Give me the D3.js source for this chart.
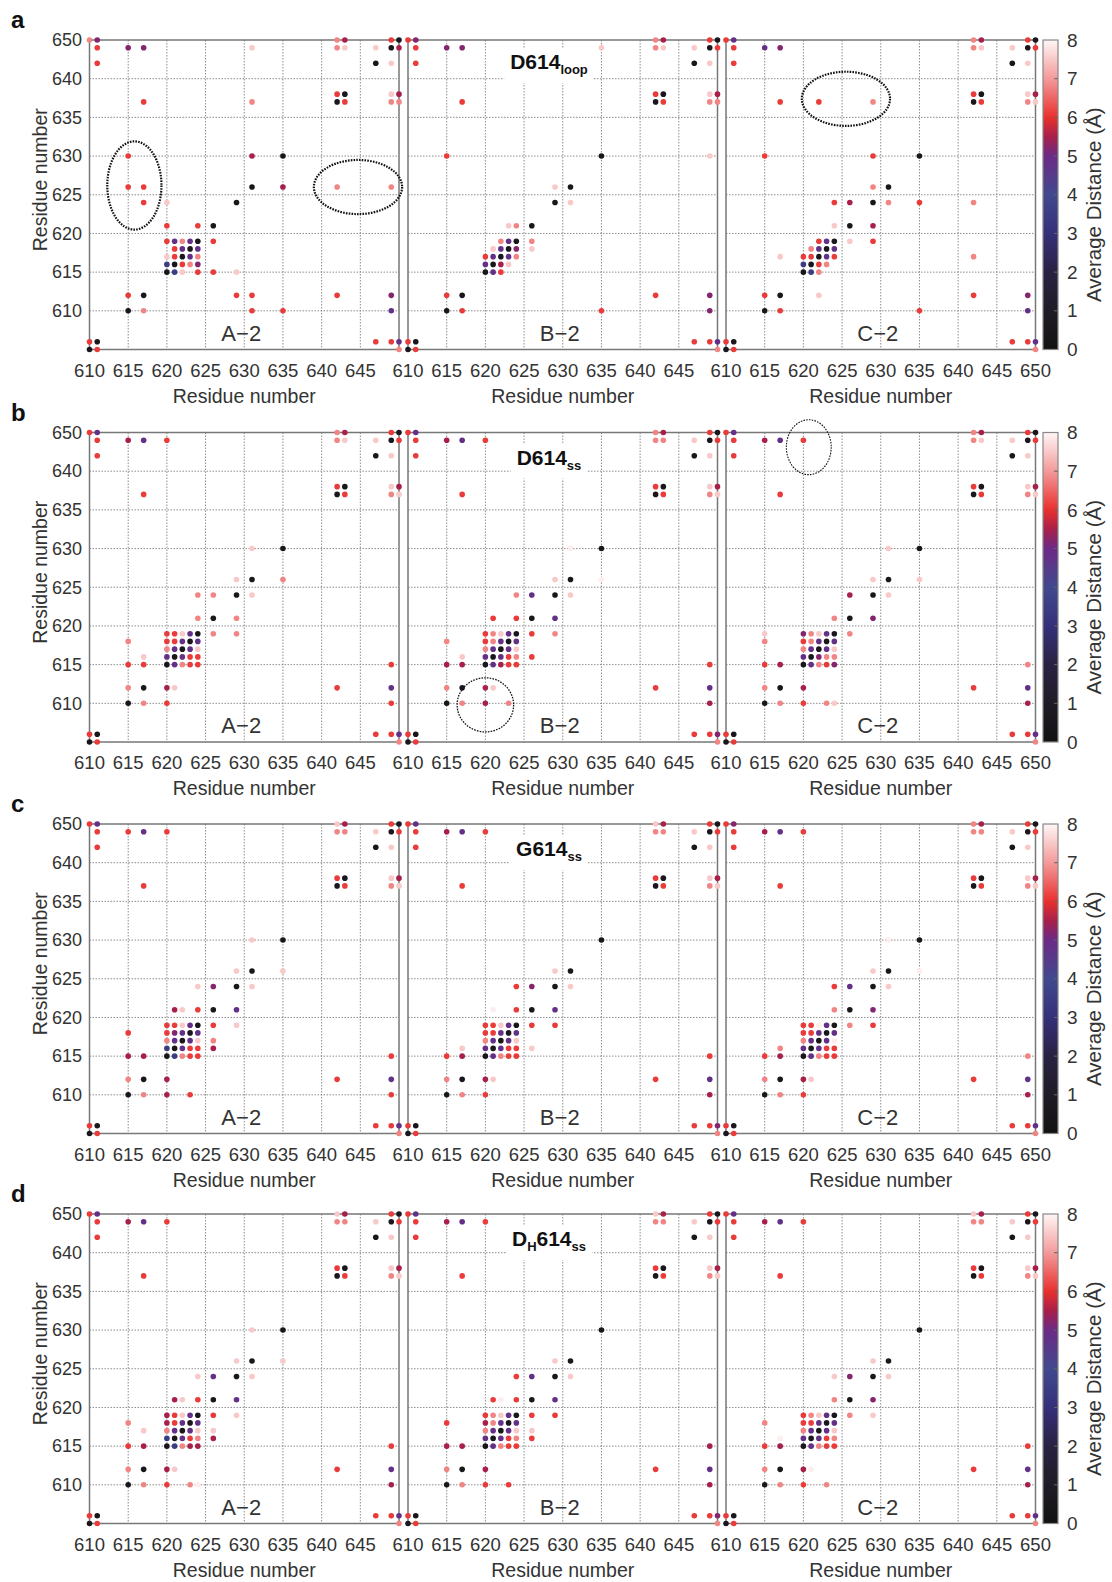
<!DOCTYPE html>
<html>
<head>
<meta charset="utf-8">
<script src="https://cdn.jsdelivr.net/npm/d3@7"></script>
<style>
  body { margin: 0; background: #fff; }
  text { font-family: "Liberation Sans Narrow", "Liberation Sans", Arial, sans-serif; fill: #333; }
  .bold { font-family: "Liberation Sans", Arial, sans-serif; font-weight: bold; fill: #111; }
  .boldn { font-family: "Liberation Sans Narrow", "Liberation Sans", Arial, sans-serif; font-weight: bold; fill: #111; }
</style>
</head>
<body>
<div id="chart"></div>
<script>
// contact maps: residue pairs coloured by average distance (Å)
// y values are on the plotted row scale (top row is labelled 650)

const K = 0.5, I = 3.5, P = 4.8, Q = 5.2, M = 5.5, R = 6.1, S = 6.8, L = 7.5, F = 7.9;

const xTicks = [610, 615, 620, 625, 630, 635, 640, 645, 650];
const yTicks = [610, 615, 620, 625, 630, 635, 640, 645];
const yTickLabels = ["610", "615", "620", "625", "630", "635", "640", "650"];
const rowLetters = ["a", "b", "c", "d"];
const panelNames = ["A\u22122", "B\u22122", "C\u22122"];
const barTicks = [0, 1, 2, 3, 4, 5, 6, 7, 8];
const barStops = [0, 1, 2, 3, 4, 5, 5.5, 6, 7, 8];
const barColors = ["#121212", "#1f1b26", "#2a2142", "#35307a", "#41498e", "#6c2a86", "#a8204a", "#e8302e", "#f39a9a", "#fff6f6"];

const aA = [
  [610,645,S],[611,645,Q],[642,645,S],[643,645,M],[649,645,R],[650,645,K],
  [611,644,R],[615,644,Q],[617,644,Q],[631,644,L],[642,644,S],[643,644,L],[647,644,L],[649,644,K],[650,644,M],
  [611,642,R],[647,642,K],[649,642,L],
  [642,638,R],[643,638,K],[649,638,L],[650,638,M],
  [617,637,R],[631,637,S],[642,637,K],[643,637,R],[649,637,S],[650,637,S],
  [615,630,R],[631,630,M],[635,630,K],
  [615,626,R],[617,626,R],[631,626,K],[635,626,M],[642,626,S],[649,626,S],
  [617,624,R],[620,624,L],[629,624,K],
  [620,621,R],[624,621,R],[626,621,K],
  [620,619,R],[621,619,P],[622,619,S],[623,619,P],[624,619,K],[626,619,R],
  [621,618,R],[622,618,P],[623,618,K],[624,618,P],
  [620,617,L],[621,617,R],[622,617,K],[623,617,P],[624,617,S],
  [620,616,I],[621,616,K],[622,616,R],[623,616,S],[624,616,Q],
  [620,615,K],[621,615,I],[622,615,L],[624,615,R],[626,615,R],[629,615,L],
  [615,612,R],[617,612,K],[629,612,R],[631,612,R],[642,612,R],[649,612,Q],
  [615,610,K],[617,610,S],[631,610,R],[635,610,R],[649,610,P],
  [610,606,R],[611,606,K],[647,606,R],[649,606,R],[650,606,P],
  [610,605,K],[611,605,R],[650,605,S]
];
const aB = [
  [610,645,R],[611,645,Q],[642,645,S],[643,645,M],[649,645,R],[650,645,K],
  [611,644,R],[615,644,Q],[617,644,Q],[635,644,L],[642,644,S],[643,644,L],[647,644,L],[649,644,K],[650,644,R],
  [611,642,R],[647,642,K],[649,642,L],
  [642,638,R],[643,638,K],[649,638,L],[650,638,M],
  [617,637,R],[642,637,K],[643,637,R],[649,637,S],[650,637,S],
  [615,630,R],[635,630,K],[649,630,L],
  [629,626,L],[631,626,K],
  [629,624,K],[631,624,L],
  [623,621,L],[624,621,S],[626,621,K],
  [622,619,S],[623,619,P],[624,619,K],[626,619,S],
  [621,618,L],[622,618,P],[623,618,K],[624,618,Q],[626,618,L],
  [620,617,R],[621,617,P],[622,617,K],[623,617,P],[624,617,S],
  [620,616,P],[621,616,K],[622,616,M],[623,616,L],
  [620,615,K],[621,615,P],[622,615,R],
  [615,612,R],[617,612,K],[642,612,R],[649,612,Q],
  [615,610,K],[617,610,R],[635,610,R],[649,610,Q],
  [610,606,R],[611,606,K],[647,606,R],[649,606,R],[650,606,P],
  [610,605,K],[611,605,R],[650,605,S]
];
const aC = [
  [610,645,R],[611,645,P],[642,645,S],[643,645,M],[649,645,R],[650,645,K],
  [611,644,R],[615,644,P],[617,644,Q],[642,644,S],[643,644,L],[647,644,L],[649,644,K],[650,644,R],
  [611,642,R],[647,642,K],[649,642,L],
  [642,638,R],[643,638,K],[649,638,L],[650,638,M],
  [617,637,R],[622,637,R],[629,637,S],[642,637,K],[643,637,R],[649,637,S],[650,637,L],
  [615,630,R],[629,630,R],[635,630,K],
  [629,626,S],[631,626,K],
  [624,624,R],[626,624,M],[629,624,K],[631,624,S],[635,624,R],[642,624,S],
  [624,621,L],[626,621,K],[629,621,M],
  [622,619,R],[623,619,P],[624,619,K],[626,619,L],[629,619,R],
  [621,618,S],[622,618,P],[623,618,K],[624,618,P],
  [617,617,L],[620,617,R],[621,617,R],[622,617,K],[623,617,P],[624,617,R],[642,617,S],
  [620,616,I],[621,616,K],[622,616,R],[623,616,S],
  [620,615,K],[621,615,I],[622,615,S],
  [615,612,R],[617,612,K],[622,612,L],[642,612,R],[649,612,Q],
  [615,610,K],[617,610,R],[635,610,R],[649,610,P],
  [610,606,R],[611,606,K],[647,606,R],[649,606,R],[650,606,P],
  [610,605,K],[611,605,R],[650,605,S]
];

const bA = [
  [610,645,R],[611,645,P],[642,645,S],[643,645,M],[649,645,R],[650,645,K],
  [611,644,R],[615,644,M],[617,644,P],[620,644,R],[642,644,S],[643,644,L],[647,644,L],[649,644,K],[650,644,R],
  [611,642,R],[647,642,K],[649,642,L],
  [642,638,R],[643,638,K],[649,638,L],[650,638,M],
  [617,637,R],[642,637,K],[643,637,R],[649,637,S],[650,637,L],
  [631,630,L],[635,630,K],
  [629,626,L],[631,626,K],[635,626,S],
  [624,624,S],[626,624,S],[629,624,K],[631,624,L],
  [624,621,S],[626,621,K],[629,621,S],
  [620,619,R],[621,619,R],[622,619,L],[623,619,P],[624,619,K],[626,619,S],[629,619,S],
  [615,618,S],[620,618,R],[621,618,R],[622,618,P],[623,618,K],[624,618,P],
  [620,617,S],[621,617,P],[622,617,K],[623,617,P],[624,617,L],
  [617,616,L],[620,616,P],[621,616,K],[622,616,P],[623,616,R],[624,616,R],
  [615,615,R],[617,615,R],[620,615,K],[621,615,P],[622,615,S],[623,615,R],[624,615,R],[649,615,R],
  [615,612,S],[617,612,K],[620,612,M],[621,612,L],[642,612,R],[649,612,P],
  [615,610,K],[617,610,S],[620,610,R],[649,610,R],
  [610,606,R],[611,606,K],[647,606,R],[649,606,R],[650,606,P],
  [610,605,K],[611,605,R],[650,605,S]
];
const bB = [
  [610,645,R],[611,645,P],[642,645,S],[643,645,M],[649,645,R],[650,645,K],
  [611,644,R],[615,644,M],[617,644,P],[620,644,R],[642,644,S],[643,644,S],[647,644,L],[649,644,K],[650,644,R],
  [611,642,R],[647,642,K],[649,642,L],
  [642,638,R],[643,638,K],[649,638,L],[650,638,M],
  [617,637,R],[642,637,K],[643,637,R],[649,637,S],[650,637,L],
  [631,630,F],[635,630,K],
  [629,626,L],[631,626,K],[635,626,F],
  [624,624,S],[626,624,P],[629,624,K],[631,624,L],
  [621,621,R],[624,621,R],[626,621,K],[629,621,P],
  [620,619,R],[621,619,S],[622,619,L],[623,619,P],[624,619,K],[626,619,R],[629,619,S],
  [615,618,S],[620,618,R],[621,618,S],[622,618,P],[623,618,K],[624,618,P],
  [620,617,S],[621,617,P],[622,617,K],[623,617,P],[624,617,L],
  [617,616,L],[620,616,P],[621,616,K],[622,616,P],[623,616,R],[624,616,S],[626,616,R],
  [615,615,M],[617,615,M],[620,615,K],[621,615,P],[622,615,M],[623,615,R],[624,615,R],[649,615,R],
  [615,612,S],[617,612,K],[620,612,M],[621,612,L],[642,612,R],[649,612,P],
  [615,610,K],[617,610,S],[620,610,M],[623,610,S],[649,610,M],
  [610,606,R],[611,606,K],[647,606,R],[649,606,R],[650,606,Q],
  [610,605,K],[611,605,R],[650,605,S]
];
const bC = [
  [610,645,R],[611,645,P],[642,645,S],[643,645,M],[649,645,R],[650,645,K],
  [611,644,R],[615,644,M],[617,644,P],[620,644,R],[642,644,S],[643,644,L],[647,644,L],[649,644,K],[650,644,R],
  [611,642,R],[647,642,K],[649,642,L],
  [642,638,R],[643,638,K],[649,638,L],[650,638,M],
  [617,637,R],[642,637,K],[643,637,R],[649,637,S],[650,637,L],
  [631,630,L],[635,630,K],
  [629,626,L],[631,626,K],[635,626,L],
  [626,624,M],[629,624,K],[631,624,L],
  [624,621,S],[626,621,K],[629,621,Q],
  [615,619,L],[620,619,Q],[621,619,S],[622,619,L],[623,619,P],[624,619,K],[626,619,S],
  [615,618,S],[620,618,R],[621,618,S],[622,618,P],[623,618,K],[624,618,P],
  [620,617,S],[621,617,P],[622,617,K],[623,617,P],[624,617,L],
  [620,616,P],[621,616,K],[622,616,Q],[623,616,S],[624,616,S],
  [615,615,R],[617,615,M],[620,615,K],[621,615,P],[622,615,S],[623,615,R],[624,615,Q],[649,615,S],
  [615,612,S],[617,612,K],[620,612,M],[642,612,R],[649,612,P],
  [615,610,K],[617,610,S],[620,610,R],[623,610,S],[624,610,L],[649,610,M],
  [610,606,R],[611,606,K],[647,606,R],[649,606,R],[650,606,P],
  [610,605,K],[611,605,R],[650,605,S]
];

const cA = [
  [610,645,R],[611,645,P],[642,645,L],[643,645,M],[649,645,R],[650,645,K],
  [611,644,R],[615,644,R],[617,644,P],[620,644,R],[642,644,S],[643,644,S],[647,644,L],[649,644,K],[650,644,R],
  [611,642,R],[647,642,K],[649,642,L],
  [642,638,R],[643,638,K],[649,638,L],[650,638,M],
  [617,637,R],[642,637,K],[643,637,R],[649,637,S],[650,637,L],
  [631,630,L],[635,630,K],
  [629,626,L],[631,626,K],[635,626,L],
  [624,624,L],[626,624,Q],[629,624,K],[631,624,L],
  [621,621,M],[622,621,L],[624,621,R],[626,621,K],[629,621,P],
  [620,619,R],[621,619,R],[622,619,L],[623,619,P],[624,619,K],[626,619,R],[629,619,L],
  [615,618,R],[620,618,R],[621,618,Q],[622,618,P],[623,618,K],[624,618,P],
  [620,617,S],[621,617,P],[622,617,K],[623,617,P],[624,617,L],[626,617,S],
  [620,616,I],[621,616,K],[622,616,P],[623,616,R],[624,616,R],[626,616,M],
  [615,615,M],[617,615,M],[620,615,K],[621,615,I],[622,615,S],[623,615,R],[624,615,R],[649,615,R],
  [615,612,S],[617,612,K],[620,612,M],[642,612,R],[649,612,P],
  [615,610,K],[617,610,S],[620,610,M],[623,610,R],[649,610,R],
  [610,606,R],[611,606,K],[647,606,R],[649,606,R],[650,606,P],
  [610,605,K],[611,605,R],[650,605,S]
];
const cB = [
  [610,645,R],[611,645,P],[642,645,L],[643,645,M],[649,645,R],[650,645,K],
  [611,644,R],[615,644,M],[617,644,P],[620,644,R],[642,644,S],[643,644,S],[647,644,L],[649,644,K],[650,644,R],
  [611,642,R],[647,642,K],[649,642,L],
  [642,638,R],[643,638,K],[649,638,L],[650,638,M],
  [617,637,R],[642,637,K],[643,637,R],[649,637,S],[650,637,L],
  [635,630,K],
  [629,626,L],[631,626,K],
  [624,624,R],[626,624,Q],[629,624,K],[631,624,L],
  [621,621,F],[624,621,R],[626,621,K],[629,621,P],
  [620,619,R],[621,619,R],[622,619,L],[623,619,P],[624,619,K],[626,619,R],[629,619,R],
  [620,618,R],[621,618,R],[622,618,P],[623,618,K],[624,618,P],
  [620,617,S],[621,617,P],[622,617,K],[623,617,P],[624,617,L],
  [617,616,L],[620,616,P],[621,616,K],[622,616,P],[623,616,R],[624,616,R],[626,616,L],
  [615,615,R],[617,615,M],[620,615,K],[621,615,P],[622,615,S],[623,615,R],[624,615,R],[649,615,R],
  [615,612,S],[617,612,K],[620,612,M],[621,612,L],[642,612,R],[649,612,P],
  [615,610,K],[617,610,S],[620,610,R],[649,610,M],
  [610,606,R],[611,606,K],[647,606,R],[649,606,R],[650,606,Q],
  [610,605,K],[611,605,R],[650,605,S]
];
const cC = [
  [610,645,R],[611,645,Q],[642,645,S],[643,645,M],[649,645,R],[650,645,K],
  [611,644,R],[615,644,M],[617,644,P],[620,644,R],[642,644,S],[643,644,S],[647,644,L],[649,644,K],[650,644,R],
  [611,642,R],[647,642,K],[649,642,L],
  [642,638,R],[643,638,K],[649,638,L],[650,638,M],
  [617,637,R],[642,637,K],[643,637,R],[649,637,S],[650,637,L],
  [631,630,F],[635,630,K],
  [629,626,L],[631,626,K],[635,626,F],
  [624,624,R],[626,624,P],[629,624,K],[631,624,L],
  [624,621,S],[626,621,K],[629,621,Q],
  [620,619,R],[621,619,R],[622,619,F],[623,619,P],[624,619,K],[626,619,S],[629,619,R],
  [620,618,R],[621,618,R],[622,618,P],[623,618,K],[624,618,P],
  [620,617,S],[621,617,P],[622,617,K],[623,617,P],[624,617,F],
  [617,616,S],[620,616,P],[621,616,K],[622,616,P],[623,616,R],[624,616,R],
  [615,615,R],[617,615,M],[620,615,K],[621,615,P],[622,615,S],[623,615,R],[624,615,R],[649,615,S],
  [615,612,S],[617,612,K],[620,612,M],[621,612,L],[642,612,R],[649,612,P],
  [615,610,K],[617,610,S],[620,610,R],[649,610,M],
  [610,606,R],[611,606,K],[647,606,R],[649,606,R],[650,606,P],
  [610,605,K],[611,605,R],[650,605,S]
];

const dA = [
  [610,645,R],[611,645,P],[642,645,L],[643,645,M],[649,645,R],[650,645,K],
  [611,644,R],[615,644,M],[617,644,P],[620,644,R],[642,644,S],[643,644,S],[647,644,L],[649,644,K],[650,644,R],
  [611,642,R],[647,642,K],[649,642,L],
  [642,638,R],[643,638,K],[649,638,L],[650,638,M],
  [617,637,R],[642,637,K],[643,637,R],[649,637,S],[650,637,L],
  [631,630,L],[635,630,K],
  [629,626,L],[631,626,K],[635,626,L],
  [624,624,L],[626,624,P],[629,624,K],[631,624,L],
  [621,621,M],[622,621,L],[624,621,R],[626,621,K],[629,621,P],
  [620,619,M],[621,619,R],[622,619,L],[623,619,P],[624,619,K],[626,619,R],[629,619,L],
  [615,618,S],[620,618,M],[621,618,R],[622,618,P],[623,618,K],[624,618,P],
  [617,617,L],[620,617,S],[621,617,P],[622,617,K],[623,617,P],[624,617,L],[626,617,L],
  [620,616,I],[621,616,K],[622,616,P],[623,616,R],[624,616,S],[626,616,M],
  [615,615,R],[617,615,M],[620,615,K],[621,615,I],[622,615,S],[623,615,M],[624,615,M],[649,615,R],
  [615,612,S],[617,612,K],[620,612,M],[621,612,L],[642,612,R],[649,612,P],
  [615,610,K],[617,610,S],[620,610,R],[623,610,S],[624,610,F],[649,610,M],
  [610,606,R],[611,606,K],[647,606,R],[649,606,R],[650,606,P],
  [610,605,K],[611,605,R],[650,605,S]
];
const dB = [
  [610,645,R],[611,645,P],[642,645,L],[643,645,M],[649,645,R],[650,645,K],
  [611,644,R],[615,644,M],[617,644,P],[620,644,R],[642,644,S],[643,644,S],[647,644,L],[649,644,K],[650,644,R],
  [611,642,R],[647,642,K],[649,642,L],
  [642,638,R],[643,638,K],[649,638,L],[650,638,M],
  [617,637,R],[642,637,K],[643,637,R],[649,637,S],[650,637,L],
  [635,630,K],
  [629,626,L],[631,626,K],
  [624,624,R],[626,624,P],[629,624,K],[631,624,L],
  [621,621,R],[622,621,F],[624,621,R],[626,621,K],[629,621,P],
  [620,619,R],[621,619,S],[622,619,L],[623,619,P],[624,619,K],[626,619,R],[629,619,R],
  [615,618,R],[620,618,M],[621,618,S],[622,618,P],[623,618,K],[624,618,P],
  [620,617,S],[621,617,P],[622,617,K],[623,617,P],[624,617,L],[626,617,L],
  [620,616,P],[621,616,K],[622,616,P],[623,616,R],[624,616,S],[626,616,R],
  [615,615,M],[617,615,M],[620,615,K],[621,615,P],[622,615,S],[623,615,R],[624,615,R],[649,615,M],
  [615,612,S],[617,612,K],[620,612,M],[642,612,R],[649,612,P],
  [615,610,K],[617,610,S],[620,610,R],[623,610,R],[649,610,M],
  [610,606,R],[611,606,K],[647,606,R],[649,606,R],[650,606,Q],
  [610,605,K],[611,605,R],[650,605,S]
];
const dC = [
  [610,645,R],[611,645,P],[642,645,L],[643,645,M],[649,645,R],[650,645,K],
  [611,644,R],[615,644,M],[617,644,P],[620,644,R],[642,644,S],[643,644,S],[647,644,L],[649,644,K],[650,644,R],
  [611,642,R],[647,642,K],[649,642,L],
  [642,638,R],[643,638,K],[649,638,L],[650,638,M],
  [617,637,R],[642,637,K],[643,637,R],[649,637,S],[650,637,L],
  [635,630,K],
  [629,626,L],[631,626,K],
  [624,624,L],[626,624,Q],[629,624,K],[631,624,L],
  [624,621,S],[626,621,K],[629,621,Q],
  [620,619,R],[621,619,S],[622,619,L],[623,619,P],[624,619,K],[626,619,S],[629,619,L],
  [615,618,S],[620,618,R],[621,618,R],[622,618,P],[623,618,K],[624,618,P],
  [620,617,S],[621,617,P],[622,617,K],[623,617,P],[624,617,L],
  [617,616,F],[620,616,P],[621,616,K],[622,616,P],[623,616,R],[624,616,S],
  [615,615,R],[617,615,M],[620,615,K],[621,615,P],[622,615,S],[623,615,R],[624,615,R],[649,615,R],
  [615,612,S],[617,612,K],[620,612,M],[621,612,F],[642,612,R],[649,612,P],
  [615,610,K],[617,610,S],[620,610,R],[623,610,S],[649,610,M],
  [610,606,R],[611,606,K],[647,606,R],[649,606,R],[650,606,P],
  [610,605,K],[611,605,R],[650,605,S]
];

const panelData = [[aA, aB, aC], [bA, bB, bC], [cA, cB, cC], [dA, dB, dC]];

// title in the middle panel of each row: [text, isSubscript]
const rowTitles = [
  [["D614", false], ["loop", true]],
  [["D614", false], ["ss", true]],
  [["G614", false], ["ss", true]],
  [["D", false], ["H", true], ["614", false], ["ss", true]]
];

// dotted ellipses marking regions: row, panel, centre and radii in residues
const marks = [
  { row: 0, col: 0, cx: 615.8, cy: 626.2, rx: 3.5, ry: 5.7, w: 2.2 },
  { row: 0, col: 0, cx: 644.7, cy: 626.0, rx: 5.7, ry: 3.5, w: 2.2 },
  { row: 0, col: 2, cx: 625.5, cy: 637.4, rx: 5.7, ry: 3.5, w: 2.2 },
  { row: 1, col: 1, cx: 620.0, cy: 609.8, rx: 3.65, ry: 3.5, w: 1.3 },
  { row: 1, col: 2, cx: 620.7, cy: 643.1, rx: 2.9, ry: 3.55, w: 1.1 }
];

const width = 1112, height = 1582;
const rowTops = [40, 432.5, 824, 1214];
const colLefts = [89.5, 408, 726];
const PW = 309.5, PH = 309.5;

const color = d3.scaleLinear().domain(barStops).range(barColors).interpolate(d3.interpolateRgb);

const svg = d3.select("#chart").append("svg")
  .attr("width", width).attr("height", height);

const defs = svg.append("defs");
const grad = defs.append("linearGradient").attr("id", "cbar")
  .attr("x1", 0).attr("y1", 1).attr("x2", 0).attr("y2", 0);
d3.range(0, 8.01, 0.25).forEach(v => {
  grad.append("stop").attr("offset", (v / 8 * 100) + "%").attr("stop-color", color(v));
});

rowTops.forEach((top, r) => {
  const bottom = top + PH;

  svg.append("text").attr("class", "bold")
    .attr("x", 11).attr("y", top - 12)
    .attr("font-size", "24px").text(rowLetters[r]);

  colLefts.forEach((left, c) => {
    const x = d3.scaleLinear().domain([610, 650]).range([left, left + PW]);
    const y = d3.scaleLinear().domain([605, 645]).range([bottom, top]);
    const g = svg.append("g");

    // grid
    g.selectAll(".vg").data(xTicks.slice(1, -1)).join("line")
      .attr("x1", d => x(d)).attr("x2", d => x(d))
      .attr("y1", top).attr("y2", bottom)
      .attr("stroke", "#8c8c8c").attr("stroke-width", 1).attr("stroke-dasharray", "1.5,1.5");
    g.selectAll(".hg").data(yTicks.slice(0, -1)).join("line")
      .attr("x1", left).attr("x2", left + PW)
      .attr("y1", d => y(d)).attr("y2", d => y(d))
      .attr("stroke", "#8c8c8c").attr("stroke-width", 1).attr("stroke-dasharray", "1.5,1.5");

    g.append("rect").attr("x", left).attr("y", top).attr("width", PW).attr("height", PH)
      .attr("fill", "none").attr("stroke", "#777").attr("stroke-width", 1.5);

    // x tick labels (650 only on the last panel)
    const xl = c === 2 ? xTicks : xTicks.slice(0, -1);
    g.selectAll(".xt").data(xl).join("text")
      .attr("x", d => x(d)).attr("y", bottom + 27)
      .attr("text-anchor", "middle").attr("font-size", "18.5px").text(d => d);

    g.append("text").attr("x", left + PW / 2).attr("y", bottom + 53)
      .attr("text-anchor", "middle").attr("font-size", "19.5px").text("Residue number");

    if (c === 0) {
      g.selectAll(".yt").data(yTicks).join("text")
        .attr("x", left - 7.5).attr("y", d => y(d)).attr("dy", "0.35em")
        .attr("text-anchor", "end").attr("font-size", "18px")
        .text((d, i) => yTickLabels[i]);
      g.append("text")
        .attr("transform", `translate(47,${top + PH / 2 - 15}) rotate(-90)`)
        .attr("text-anchor", "middle").attr("font-size", "19.5px").text("Residue number");
    }

    if (c === 1) {
      const t = g.append("text").attr("class", "boldn")
        .attr("x", 549).attr("y", top + (r === 0 ? 29 : 32))
        .attr("text-anchor", "middle").attr("font-size", "21px");
      let down = false;
      rowTitles[r].forEach(([s, sub]) => {
        const sp = t.append("tspan").text(s);
        if (sub) { sp.attr("font-size", "13px").attr("dy", down ? 0 : 5); down = true; }
        else { sp.attr("dy", down ? -5 : 0); down = false; }
      });
      const bb = t.node().getBBox();
      g.insert("rect", "text")
        .attr("x", bb.x - 6).attr("y", bb.y - 2).attr("width", bb.width + 12).attr("height", bb.height + 8)
        .attr("fill", "#fff");
    }

    g.append("text").attr("x", left + PW / 2 - 3).attr("y", bottom - 9)
      .attr("text-anchor", "middle").attr("font-size", "22px").text(panelNames[c]);

    // contact points
    g.selectAll("circle.pt").data(panelData[r][c]).join("circle")
      .attr("class", "pt")
      .attr("cx", d => x(d[0])).attr("cy", d => y(d[1]))
      .attr("r", 2.8).attr("fill", d => color(d[2]));

    marks.filter(m => m.row === r && m.col === c).forEach(m => {
      const ux = PW / 40;
      g.append("ellipse")
        .attr("cx", x(m.cx)).attr("cy", y(m.cy))
        .attr("rx", m.rx * ux).attr("ry", m.ry * ux)
        .attr("fill", "none").attr("stroke", "#111")
        .attr("stroke-width", m.w).attr("stroke-dasharray", "1.6,1.2");
    });
  });

  // colour bar
  const cb = d3.scaleLinear().domain([0, 8]).range([bottom, top]);
  const bx = 1043, bw = 15;
  svg.append("rect").attr("x", bx).attr("y", top).attr("width", bw).attr("height", PH)
    .attr("fill", "url(#cbar)").attr("stroke", "#888").attr("stroke-width", 1.2);
  svg.selectAll(null).data(barTicks.slice(1, -1)).join("line")
    .attr("x1", bx + bw - 4).attr("x2", bx + bw)
    .attr("y1", d => cb(d)).attr("y2", d => cb(d))
    .attr("stroke", "#666").attr("stroke-width", 1);
  svg.selectAll(null).data(barTicks).join("text")
    .attr("x", bx + bw + 9).attr("y", d => cb(d)).attr("dy", "0.35em")
    .attr("font-size", "19px").text(d => d);
  svg.append("text")
    .attr("transform", `translate(1101,${top + PH / 2 + 10}) rotate(-90)`)
    .attr("text-anchor", "middle").attr("font-size", "20.5px").text("Average Distance (\u00c5)");
});
</script>
</body>
</html>
